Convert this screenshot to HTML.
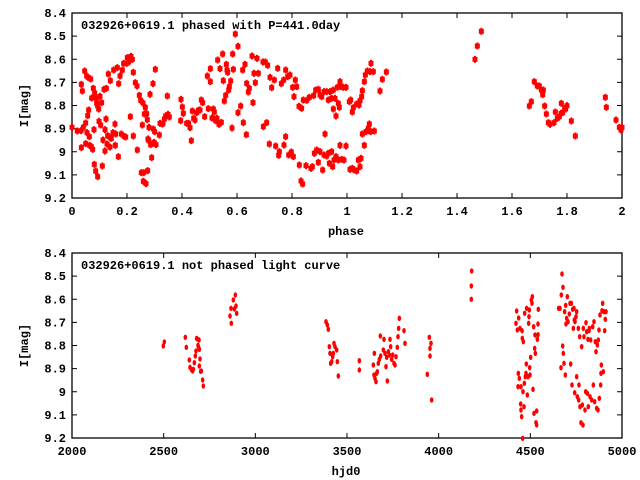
<!DOCTYPE html>
<html><head><meta charset="utf-8"><style>
body{margin:0;background:#fff;}
svg{display:block;}
text{font-family:"Liberation Mono",monospace;font-weight:bold;font-size:12px;fill:#000;}
</style></head><body>
<svg id="s" width="640" height="480" xmlns="http://www.w3.org/2000/svg">
<g id="g"></g>
</svg>
<script>
var NS="http://www.w3.org/2000/svg",g=document.getElementById('g');
function el(t,a,txt){var e=document.createElementNS(NS,t);for(var k in a)e.setAttribute(k,a[k]);if(txt!=null)e.textContent=txt;g.appendChild(e);return e;}
var X0=72,X1=622;
function panel(T,B,xt,ylab,xlab,title){
 el('rect',{x:X0,y:T,width:X1-X0,height:B-T,fill:'none',stroke:'#000','stroke-width':1.3});
 var yl=['8.4','8.5','8.6','8.7','8.8','8.9','9','9.1','9.2'];
 for(var i=0;i<9;i++){var y=T+(B-T)*i/8;
  el('line',{x1:X0,y1:y,x2:X0+5,y2:y,stroke:'#000'});el('line',{x1:X1,y1:y,x2:X1-5,y2:y,stroke:'#000'});
  el('text',{x:66,y:y+4,'text-anchor':'end'},yl[i]);}
 for(var i=0;i<xt.length;i++){var x=X0+(X1-X0)*i/(xt.length-1);
  el('line',{x1:x,y1:B,x2:x,y2:B-5,stroke:'#000'});el('line',{x1:x,y1:T,x2:x,y2:T+5,stroke:'#000'});
  el('text',{x:x,y:B+17,'text-anchor':'middle'},xt[i]);}
 el('text',{x:28,y:(T+B)/2,'text-anchor':'middle',transform:'rotate(-90 28 '+(T+B)/2+')'},ylab);
 el('text',{x:346,y:B+37,'text-anchor':'middle'},xlab);
 el('text',{x:81,y:T+16},title);
}
panel(13,198,['0','0.2','0.4','0.6','0.8','1','1.2','1.4','1.6','1.8','2'],'I[mag]','phase','032926+0619.1 phased with P=441.0day');
panel(253,438,['2000','2500','3000','3500','4000','4500','5000'],'I[mag]','hjd0','032926+0619.1 not phased light curve');
var A=[216,382,232,393,243,392,244,253,247,273,244,443,250,382,254,213,257,369,257,431,260,228,261,398,263,347,264,232,266,330,268,410,269,436,272,237,275,294,274,440,278,448,280,265,282,389,283,493,284,279,287,513,289,295,290,310,293,318,293,530,296,327,297,364,300,289,302,375,305,308,307,498,309,420,312,268,315,453,315,389,318,357,319,265,321,432,323,407,325,222,330,441,331,242,332,413,334,415,339,398,341,210,345,372,346,436,347,402,352,203,355,470,356,251,360,228,364,402,367,210,371,190,373,409,377,411,380,190,382,173,386,186,391,350,393,169,397,178,400,217,400,408,406,248,411,258,412,450,418,286,422,301,424,518,427,375,429,309,430,544,431,518,433,342,436,322,438,551,440,341,442,359,443,512,444,417,446,421,447,382,450,283,452,434,455,473,459,251,460,387,462,427,464,395,466,208,468,434,478,405,480,370,487,372,489,370,493,357,497,348,502,288,504,343,508,351,543,298,542,362,547,321,550,340,560,370,566,370,570,383,574,422,577,333,581,355,585,360,590,338,595,331,600,330,604,300,608,308,614,350,622,228,625,326,631,245,631,206,636,354,640,327,643,336,647,362,651,355,653,180,657,373,660,206,664,367,668,162,670,242,673,303,677,286,679,193,681,210,683,217,686,270,688,260,692,243,698,162,696,384,700,208,706,102,714,139,714,338,722,318,728,210,730,368,735,193,739,404,740,250,745,276,748,265,756,168,759,308,762,220,766,248,771,175,775,220,789,186,790,380,796,186,800,368,803,196,808,432,810,232,815,263,823,240,827,438,833,205,836,466,838,455,844,251,851,240,852,435,857,410,857,210,863,230,866,465,870,225,874,456,878,262,880,470,882,290,886,240,890,260,897,319,898,495,903,543,905,325,908,552,910,300,918,497,920,301,928,292,933,505,937,500,941,287,943,460,947,270,950,450,955,487,955,268];
var B=[0,285,5,290,12,275,15,402,20,275,25,300,30,275,35,295,40,270,40,327,45,295,48,348,52,262,55,310,58,322,60,245,62,260,70,262,78,262,88,305,92,300,97,336,100,323,110,312,117,315,120,302,125,290,127,272,133,245,136,225,142,213,150,215,153,190,160,215,180,273,187,238,199,216,0,455,8,510,12,465,20,468,25,460,28,490,35,455,38,500,42,480,48,470,55,480,60,436,65,478,72,480,78,438,90,508,97,505,103,510,110,513,115,480,120,500,123,475,127,402,133,436,138,395,145,385,148,372,152,395,163,393,465,178,472,138,484,94,628,318,634,305,643,245,652,258,658,258,664,270,668,284,670,270,674,318,679,342,685,368,690,373,702,368,706,336,712,355,718,350,723,340,728,338,734,325,737,327,741,317,724,310,754,363,766,408,856,292,859,322,888,360,898,382,903,390,906,382];
var C=[490,318,493,306,556,292,559,322,568,360,570,382,575,390,578,393,580,388,583,368,586,348,588,333,590,295,592,297,594,316,596,322,598,328,597,300,600,357,598,378,602,394,604,393,608,420,610,438,690,228,694,250,693,205,700,180,703,207,706,165,708,198,710,220];
var D=[18,245,22,255,25,268,28,320,30,340,32,370,35,365,38,350,40,340,42,310,45,320,50,330,52,365,55,408,118,362,118,390,160,375,162,405,163,340,165,415,168,425,170,400,172,395,175,370,178,358,181,288,182,348,190,330,192,298,195,340,198,380,200,352,202,423,205,335,208,345,210,298,212,320,215,358,218,345,222,370,225,375,228,350,232,322,234,290,236,265,238,235,252,272,255,310,322,403,328,292,330,325,333,310,330,348,335,480,455,93,454,138,454,178,588,250,590,213,592,270,594,440,595,400,596,234,598,415,600,265,602,492,603,440,603,510,605,530,606,272,607,295,608,595,609,455,610,305,612,500,613,430,614,220,616,410,618,400,619,372,620,205,622,465,624,410,626,250,627,230,628,210,629,383,630,405,632,352,634,180,636,190,637,170,639,448,641,260,642,520,644,325,645,285,646,340,648,548,650,555,650,513,652,298,654,252,654,284,655,208,716,205,720,205,723,383,724,165,726,102,728,318,729,142,730,340,732,370,734,215,736,405,737,196,738,252,740,235,742,170,744,245,748,222,750,190,752,372,754,190,756,435,758,208,760,265,762,205,763,240,764,458,765,245,768,230,770,410,770,215,772,470,775,265,776,480,777,435,779,290,780,500,783,548,785,320,787,495,789,555,790,265,792,290,795,510,797,455,798,248,800,275,802,460,804,298,805,500,807,272,808,265,810,470,812,300,815,480,818,260,820,435,822,245,824,485,826,305,828,335,830,505,832,315,834,510,835,300,837,270,838,475,840,225,842,435,843,400,844,375,846,212,848,190,850,395,852,215,854,272,856,238,858,215];
function big(a,ox,oy){for(var i=0;i<a.length;i+=2){var x=(a[i]+ox)/3,y=(a[i+1]+oy)/3;
 el('rect',{x:x-2.5,y:y-2.5,width:5,height:5,fill:'#f00'});el('rect',{x:x-1,y:y-3.5,width:2,height:7,fill:'#f00'});}}
function small(a,ox,oy){for(var i=0;i<a.length;i+=2){var x=(a[i]+ox)/3,y=(a[i+1]+oy)/3;
 el('ellipse',{cx:x,cy:y,rx:1.8,ry:2.7,fill:'#f00'});}}
big(A,0,0);big(B,960,0);small(C,0,720);small(D,960,720);
</script>
</body></html>
